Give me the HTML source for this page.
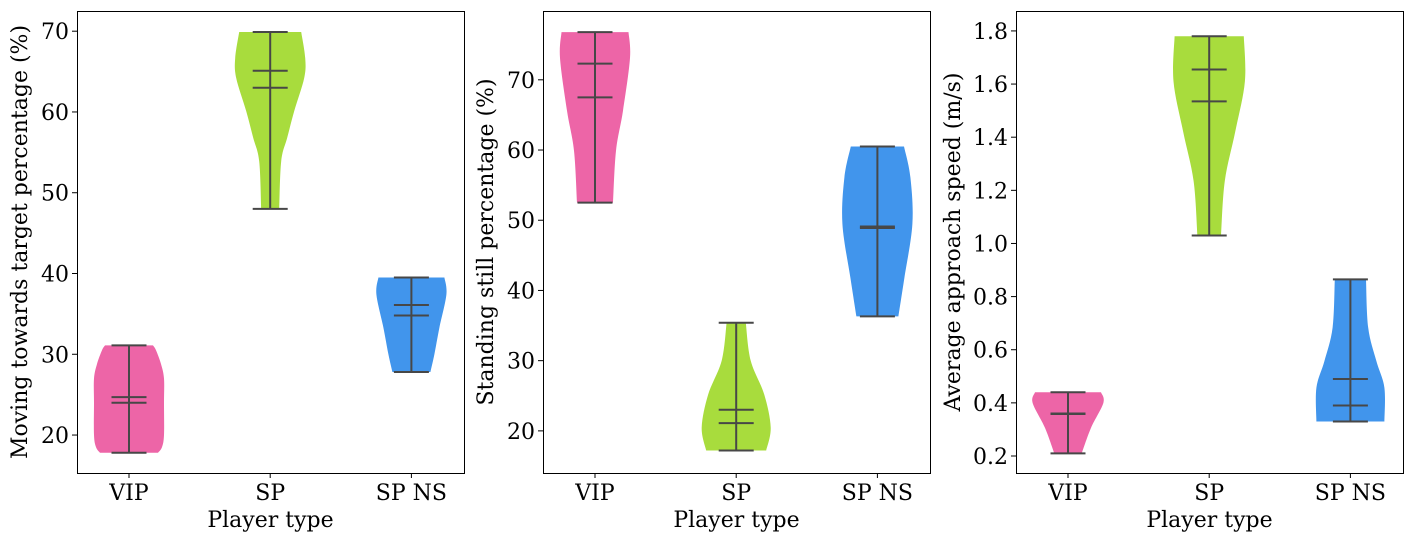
<!DOCTYPE html>
<html><head><meta charset="utf-8"><style>
body{margin:0;background:#fff;}
svg text{font-family:"DejaVu Serif","Liberation Serif",serif;fill:#000;}
</style></head><body>
<svg id="chart" width="1406" height="542" xmlns="http://www.w3.org/2000/svg"></svg>
<script>
const categories = ["VIP","SP","SP NS"];
const colors = ["#ed65a7","#a8dc3d","#4195ec"];
// Panel 1: Moving towards target percentage
const p1Levels = [
  [17.8,18.5,20,24,27,28.8,30.5,31.1],
  [48,53.9,56.8,60.1,64.2,66.7,69.9],
  [27.8,30,33.3,37.4,39.5]
];
const p1Widths = [
  [29,33,35,35,35,32,27,24],
  [9,11,17,24,34,35,31],
  [19,23,28,35,33]
];
const p1Stats = [[17.8,31.1,24.7,24.0],[48,69.9,65.1,63.0],[27.8,39.5,36.1,34.8]];
const p1Ticks = [20,30,40,50,60,70];
// Panel 2: Standing still percentage
const p2Levels = [
  [52.5,59.9,65.6,73.1,76.8],
  [17.2,20.5,25.2,30.0,35.4],
  [36.3,41.8,49.5,56.1,60.5]
];
const p2Widths = [
  [18,21,28,35,33.5],
  [30,34.5,28,14.5,9.6],
  [21,27,35,33,26.6]
];
const p2Stats = [[52.5,76.8,72.3,67.5],[17.2,35.4,23.0,21.1],[36.3,60.5,49.1,48.9]];
const p2Ticks = [20,30,40,50,60,70];
// Panel 3: Average approach speed
const p3Levels = [
  [0.21,0.306,0.40,0.44],
  [1.03,1.235,1.42,1.61,1.78],
  [0.33,0.457,0.557,0.683,0.865]
];
const p3Widths = [
  [13.7,23,35.4,33],
  [11.8,15.6,26,35.7,34.6],
  [34,34,26,17.8,15.6]
];
const p3Stats = [[0.21,0.44,0.36,0.358],[1.03,1.78,1.655,1.535],[0.33,0.865,0.49,0.39]];
const p3Ticks = [0.2,0.4,0.6,0.8,1.0,1.2,1.4,1.6,1.8];

const NS="http://www.w3.org/2000/svg";
const svg=document.getElementById('chart');
function mk(tag,attrs,parent){const e=document.createElementNS(NS,tag);for(const k in attrs)e.setAttribute(k,attrs[k]);(parent||svg).appendChild(e);return e;}

function spline(pts){
  let d="M"+pts[0][0]+","+pts[0][1];
  for(let i=0;i<pts.length-1;i++){
    const p0=pts[Math.max(0,i-1)],p1=pts[i],p2=pts[i+1],p3=pts[Math.min(pts.length-1,i+2)];
    const c1=[p1[0]+(p2[0]-p0[0])/6,p1[1]+(p2[1]-p0[1])/6];
    const c2=[p2[0]-(p3[0]-p1[0])/6,p2[1]-(p3[1]-p1[1])/6];
    d+=" C"+c1[0]+","+c1[1]+" "+c2[0]+","+c2[1]+" "+p2[0]+","+p2[1];
  }
  return d;
}

function panel(idx,x0,ymin,ymax,ticks,fmt,ylabel,levels,widths,stats){
  const top=11, bot=473;
  const g=mk('g',{});
  
  
  const ys=v=>bot-(v-ymin)/(ymax-ymin)*(bot-top);
  const xs=c=>x0+52+c*141.2;
  categories.forEach((cat,c)=>{
    const cx=xs(c);
    const L=levels[c],W=widths[c];
    const right=L.map((v,i)=>[cx+W[i],ys(v)]);
    const left=L.map((v,i)=>[cx-W[i],ys(v)]).reverse();
    let d=spline(right)+" L"+left[0][0]+","+left[0][1]+spline(left).replace(/^M[^ C]+/,"")+" Z";
    const p=mk('path',{d:d,fill:colors[c]},g);
    
    
    const s=stats[c];
    const vl=mk('line',{x1:cx,x2:cx,y1:ys(s[0]),y2:ys(s[1]),stroke:'#474747','stroke-width':2},g);
    
    
    s.forEach(v=>{
      const l=mk('line',{x1:cx-17.5,x2:cx+17.5,y1:ys(v),y2:ys(v),stroke:'#474747','stroke-width':2},g);
      
      
    });
    mk('line',{x1:cx,x2:cx,y1:bot,y2:bot+5,stroke:'#000','stroke-width':1},g);
    const t=mk('text',{x:cx,y:500,'text-anchor':'middle','font-size':22},g);
    t.textContent=cat;
    
    
  });
  ticks.forEach(v=>{
    const y=ys(v);
    mk('line',{x1:x0-5,x2:x0,y1:y,y2:y,stroke:'#000','stroke-width':1},g);
    const t=mk('text',{x:x0-8,y:y+8,'text-anchor':'end','font-size':22},g);
    t.textContent=fmt(v);
    
    
  });
  const fr=mk('rect',{x:x0+0.5,y:top+0.5,width:387,height:bot-top,fill:'none',stroke:'#000','stroke-width':1},g);
  
  
  const xl=mk('text',{x:x0+193.5,y:527,'text-anchor':'middle','font-size':22},g);
  xl.textContent="Player type";
  
  
  const yx=x0-(idx===2?56:50);
  const yl=mk('text',{x:0,y:0,'text-anchor':'middle','font-size':22,transform:`translate(${yx},${(top+bot)/2}) rotate(-90)`},g);
  yl.textContent=ylabel;
  
  
}
panel(0,77,15.3,72.5,p1Ticks,v=>String(v),"Moving towards target percentage (%)",p1Levels,p1Widths,p1Stats);
panel(1,543,14.0,79.8,p2Ticks,v=>String(v),"Standing still percentage (%)",p2Levels,p2Widths,p2Stats);
panel(2,1016,0.136,1.875,p3Ticks,v=>v.toFixed(1),"Average approach speed (m/s)",p3Levels,p3Widths,p3Stats);
</script>
</body></html>
